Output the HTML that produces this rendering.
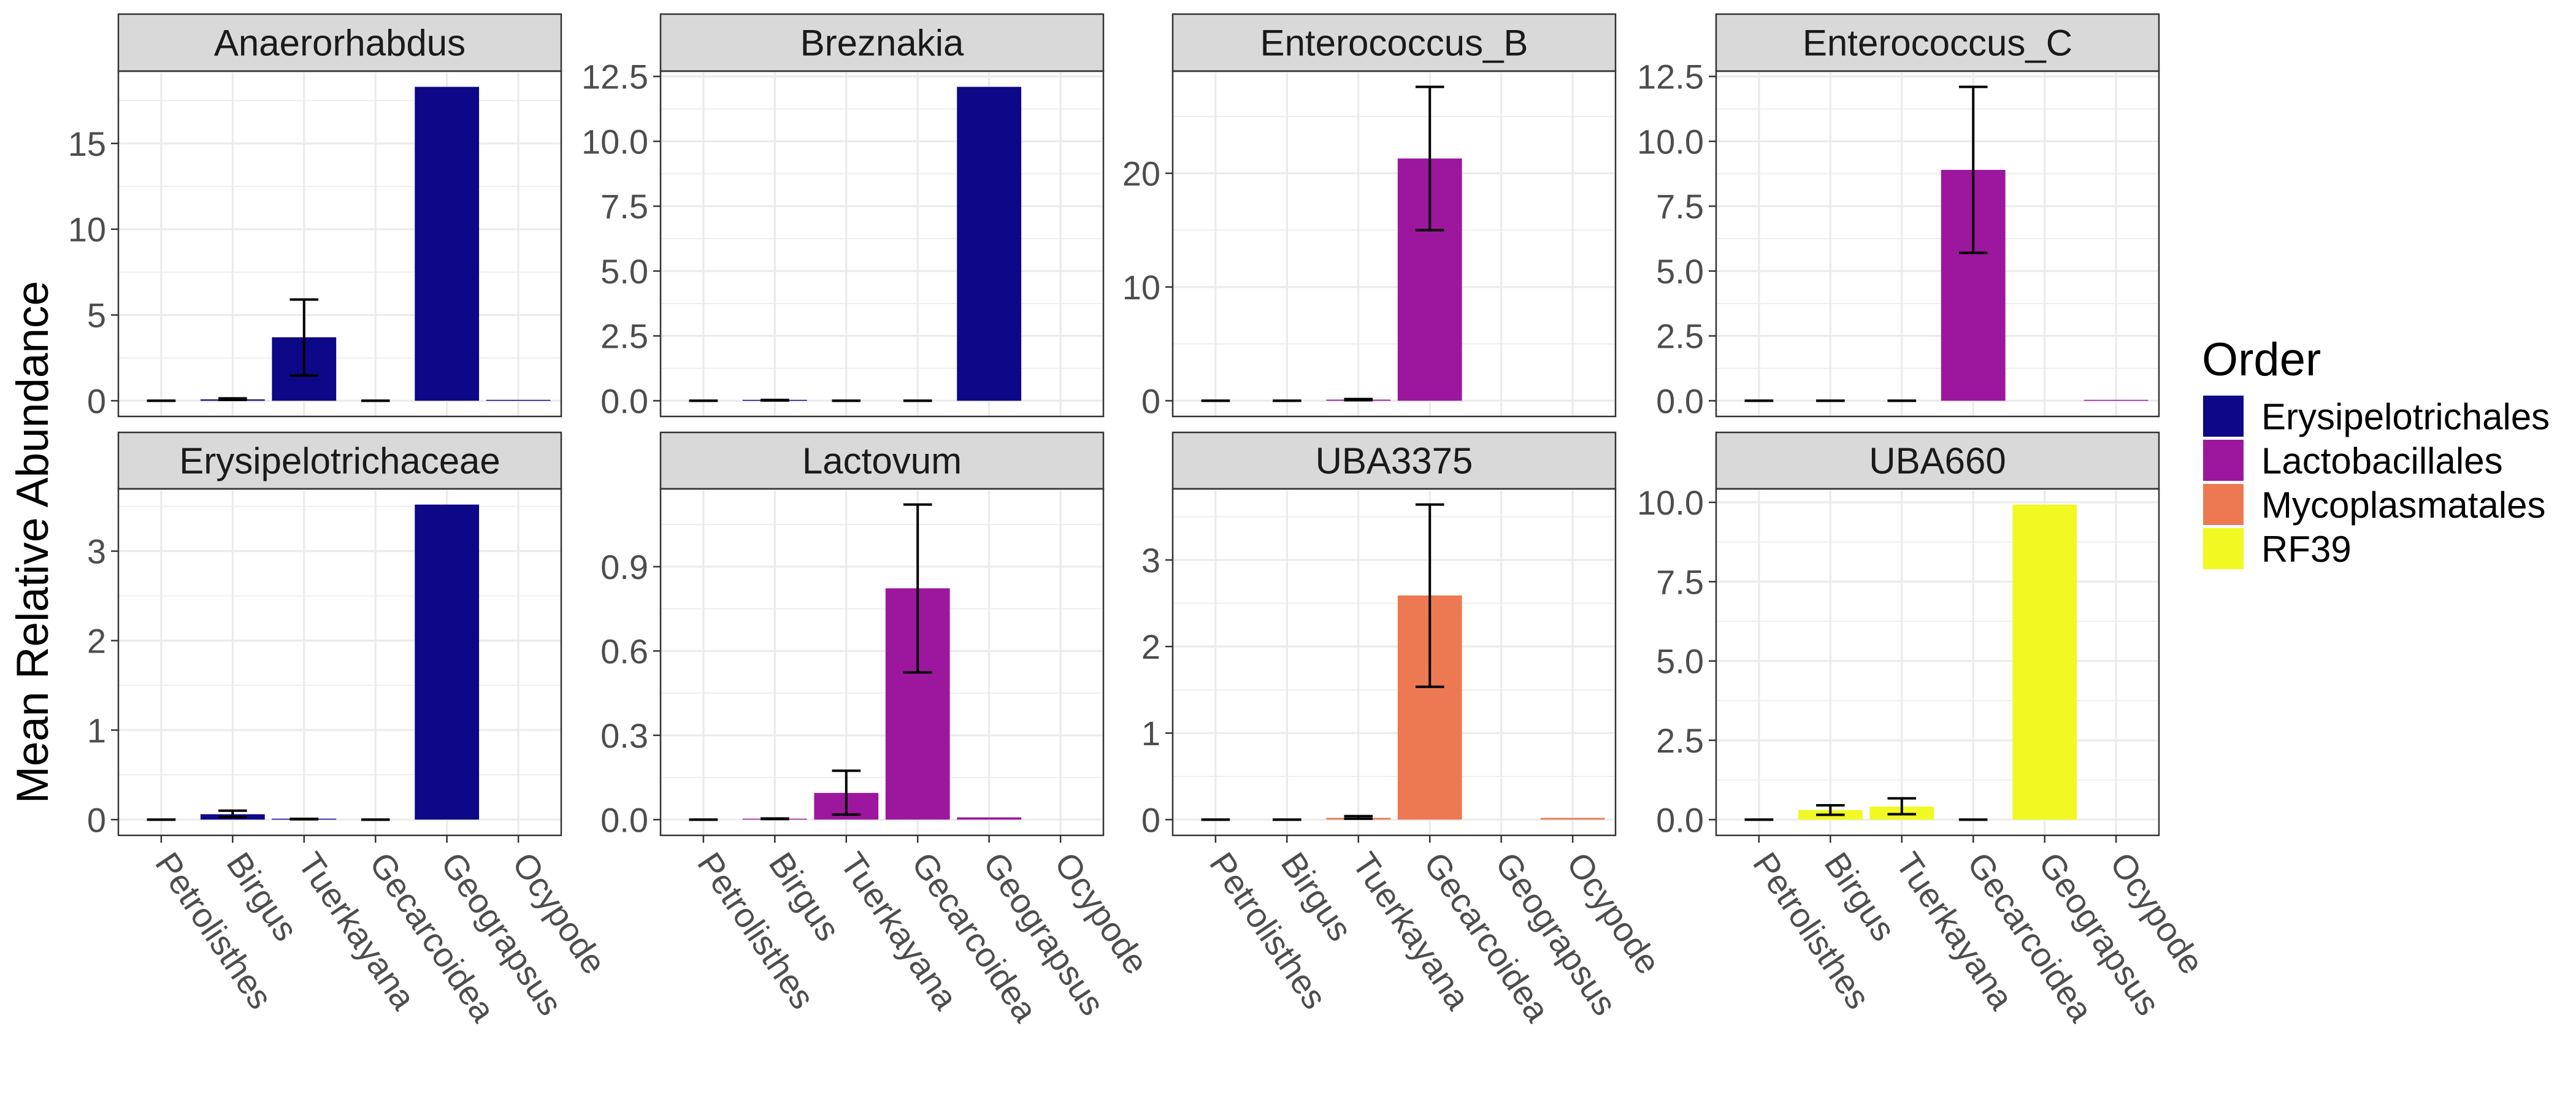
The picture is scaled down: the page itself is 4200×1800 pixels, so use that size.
<!DOCTYPE html>
<html><head><meta charset="utf-8"><style>
html,body{margin:0;padding:0;background:#fff;}
svg{display:block;font-family:"Liberation Sans",sans-serif;}
</style></head><body>
<svg id="chart" width="4200" height="1800" viewBox="0 0 4200 1800" xmlns="http://www.w3.org/2000/svg">
<rect width="4200" height="1800" fill="#fff"/>
<text x="0" y="0" transform="translate(78,884) rotate(-90)" text-anchor="middle" font-size="73" fill="#000">Mean Relative Abundance</text>
<g>
<text x="3590" y="612" font-size="76" fill="#000">Order</text>
<rect x="3592" y="645" width="66" height="67" fill="#0d0887"/>
<text x="3687" y="700" font-size="60">Erysipelotrichales</text>
<rect x="3592" y="717" width="66" height="67" fill="#9c179e"/>
<text x="3687" y="772" font-size="60">Lactobacillales</text>
<rect x="3592" y="789" width="66" height="67" fill="#ed7953"/>
<text x="3687" y="844" font-size="60">Mycoplasmatales</text>
<rect x="3592" y="861" width="66" height="67" fill="#f0f921"/>
<text x="3687" y="916" font-size="60">RF39</text>
</g>
<g id="panels"></g>
</svg>
<script>
const categories = ["Petrolisthes","Birgus","Tuerkayana","Gecarcoidea","Geograpsus","Ocypode"];
const panelTitles = ["Anaerorhabdus","Breznakia","Enterococcus_B","Enterococcus_C","Erysipelotrichaceae","Lactovum","UBA3375","UBA660"];
const panelOrders = ["Erysipelotrichales","Erysipelotrichales","Lactobacillales","Lactobacillales","Erysipelotrichales","Lactobacillales","Mycoplasmatales","RF39"];
const orderNames = ["Erysipelotrichales","Lactobacillales","Mycoplasmatales","RF39"];
const orderColors = ["#0d0887","#9c179e","#ed7953","#f0f921"];
const meanAnaerorhabdus = [0,0.08,3.7,0,18.3,0.03];
const loAnaerorhabdus = [0,0.05,1.47,0,null,null];
const hiAnaerorhabdus = [0,0.14,5.9,0,null,null];
const meanBreznakia = [0,0.02,0,0,12.1,null];
const loBreznakia = [0,0.01,0,0,null,null];
const hiBreznakia = [0,0.03,0,0,null,null];
const meanEnterococcusB = [0,0,0.1,21.3,null,null];
const loEnterococcusB = [0,0,0.05,15.0,null,null];
const hiEnterococcusB = [0,0,0.15,27.6,null,null];
const meanEnterococcusC = [0,0,0,8.9,null,0.02];
const loEnterococcusC = [0,0,0,5.7,null,null];
const hiEnterococcusC = [0,0,0,12.1,null,null];
const meanErysipelotrichaceae = [0,0.06,0.005,0,3.52,null];
const loErysipelotrichaceae = [0,0.03,0.004,0,null,null];
const hiErysipelotrichaceae = [0,0.1,0.008,0,null,null];
const meanLactovum = [0,0.003,0.095,0.823,0.008,null];
const loLactovum = [0,0.002,0.018,0.524,null,null];
const hiLactovum = [0,0.004,0.174,1.121,null,null];
const meanUBA3375 = [0,0,0.02,2.59,null,0.02];
const loUBA3375 = [0,0,0.01,1.535,null,null];
const hiUBA3375 = [0,0,0.04,3.64,null,null];
const meanUBA660 = [0,0.3,0.41,0,9.93,null];
const loUBA660 = [0,0.15,0.17,0,null,null];
const hiUBA660 = [0,0.45,0.67,0,null,null];
const tickLabels = [
 ["0","5","10","15"],
 ["0.0","2.5","5.0","7.5","10.0","12.5"],
 ["0","10","20"],
 ["0.0","2.5","5.0","7.5","10.0","12.5"],
 ["0","1","2","3"],
 ["0.0","0.3","0.6","0.9"],
 ["0","1","2","3"],
 ["0.0","2.5","5.0","7.5","10.0"]
];
const means = [meanAnaerorhabdus,meanBreznakia,meanEnterococcusB,meanEnterococcusC,meanErysipelotrichaceae,meanLactovum,meanUBA3375,meanUBA660];
const los = [loAnaerorhabdus,loBreznakia,loEnterococcusB,loEnterococcusC,loErysipelotrichaceae,loLactovum,loUBA3375,loUBA660];
const his = [hiAnaerorhabdus,hiBreznakia,hiEnterococcusB,hiEnterococcusC,hiErysipelotrichaceae,hiLactovum,hiUBA3375,hiUBA660];

const NS="http://www.w3.org/2000/svg";
const root=document.getElementById('panels');
function mk(tag,attrs,parent){const e=document.createElementNS(NS,tag);for(const k in attrs)e.setAttribute(k,attrs[k]);(parent||root).appendChild(e);return e;}
const lefts=[193,1077,1912,2798], W=722;
const stripTops=[23,705], plotTops=[116,797], plotBottoms=[679,1362];
const catStep=W/6.2;

for(let p=0;p<8;p++){
 const row=Math.floor(p/4), col=p%4;
 const L=lefts[col], T=plotTops[row], B=plotBottoms[row], H=B-T;
 const vals=means[p], lo=los[p], hi=his[p];
 let ymax=0;
 vals.forEach((v,i)=>{ if(v!=null) ymax=Math.max(ymax,v); if(hi[i]!=null) ymax=Math.max(ymax,hi[i]); });
 const span=ymax*1.1, ymin=-ymax*0.05;
 const y=v=>B-(v-ymin)/span*H;
 const x=i=>L+(0.6+i)*catStep;
 const color=orderColors[orderNames.indexOf(panelOrders[p])];
 const g=mk('g',{});
 
 
 const st=mk('rect',{x:L,y:stripTops[row],width:W,height:T-stripTops[row],fill:'#d9d9d9',stroke:'#333','stroke-width':2.5},g);
 
 
 const stt=mk('text',{x:L+W/2,y:(stripTops[row]+T)/2+21,'text-anchor':'middle','font-size':60,fill:'#1a1a1a'},g);
 stt.textContent=panelTitles[p];
 
 
 const labels=tickLabels[p];
 const ticks=labels.map(Number);
 const step=ticks.length>1?ticks[1]-ticks[0]:1;
 for(let m=ticks[0]-step/2;m<=ymin+span;m+=step){
  if(m<ymin) continue;
  mk('line',{x1:L,x2:L+W,y1:y(m),y2:y(m),stroke:'#ebebeb','stroke-width':1.6},g);
 }
 ticks.forEach((t,k)=>{
  mk('line',{x1:L,x2:L+W,y1:y(t),y2:y(t),stroke:'#ebebeb','stroke-width':3.2},g);
  mk('line',{x1:L-12,x2:L,y1:y(t),y2:y(t),stroke:'#333','stroke-width':2.5},g);
  const tl=mk('text',{x:L-20,y:y(t)+20,'text-anchor':'end','font-size':56,fill:'#4d4d4d'},g);
  tl.textContent=labels[k];
  
  
 });
 categories.forEach((c,i)=>{
  mk('line',{x1:x(i),x2:x(i),y1:T,y2:B,stroke:'#ebebeb','stroke-width':3.2},g);
 });
 vals.forEach((v,i)=>{
  if(v==null) return;
  const h=Math.max(y(0)-y(v),v>0?1.5:0);
  const r=mk('rect',{x:x(i)-0.45*catStep,y:y(0)-h,width:0.9*catStep,height:h,fill:color},g);
  
  
 });
 vals.forEach((v,i)=>{
  if(lo[i]==null||hi[i]==null) return;
  const eg=mk('g',{stroke:'#000','stroke-width':4},g);
  
  
  const hw=0.2*catStep;
  mk('line',{x1:x(i),x2:x(i),y1:y(hi[i]),y2:y(lo[i])},eg);
  mk('line',{x1:x(i)-hw,x2:x(i)+hw,y1:y(hi[i]),y2:y(hi[i])},eg);
  mk('line',{x1:x(i)-hw,x2:x(i)+hw,y1:y(lo[i]),y2:y(lo[i])},eg);
 });
 mk('rect',{x:L,y:T,width:W,height:H,fill:'none',stroke:'#333','stroke-width':2.5},g);
 if(row===1){
  categories.forEach((c,i)=>{
   mk('line',{x1:x(i),x2:x(i),y1:B,y2:B+12,stroke:'#333','stroke-width':2.5},g);
   const xl=mk('text',{x:0,y:0,transform:'translate('+(x(i)+22)+','+(B+22)+') rotate(56)','font-size':56,fill:'#4d4d4d','dominant-baseline':'hanging'},g);
   xl.textContent=c;
   
   
  });
 }
}
</script>
</body></html>
